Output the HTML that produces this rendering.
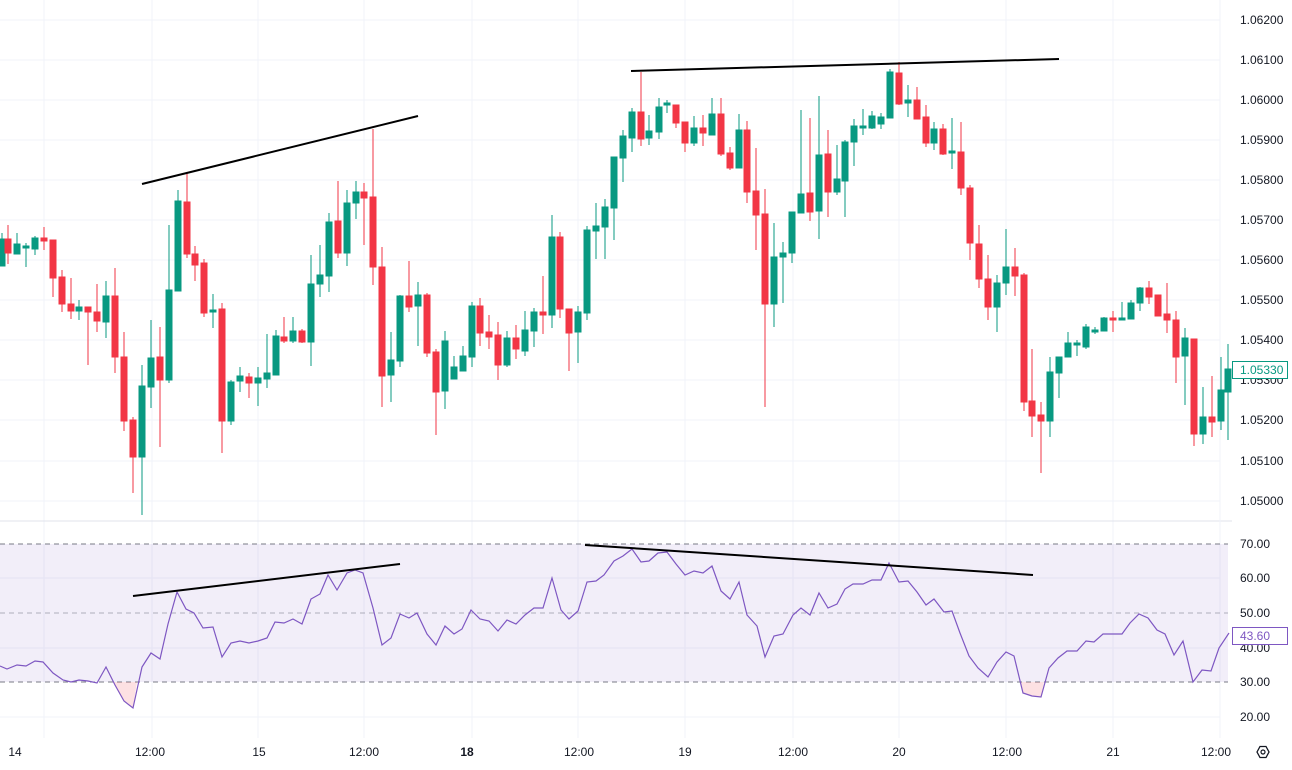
<!DOCTYPE html>
<html><head><meta charset="utf-8"><style>
html,body{margin:0;padding:0;background:#fff;}
svg{display:block;font-family:"Liberation Sans",sans-serif;}
.g{fill:#089981;stroke:#089981;stroke-width:1}
.r{fill:#f23645;stroke:#f23645;stroke-width:1}
.ax{font-size:12px;fill:#131722}
</style></head><body>
<svg width="1292" height="770" viewBox="0 0 1292 770">
<rect width="1292" height="770" fill="#fff"/>
<!-- grid -->
<g stroke="#f0f3fa" stroke-width="1">
<line x1="0" x2="1220" y1="20" y2="20"/><line x1="0" x2="1220" y1="60" y2="60"/><line x1="0" x2="1220" y1="100" y2="100"/><line x1="0" x2="1220" y1="140" y2="140"/><line x1="0" x2="1220" y1="180" y2="180"/><line x1="0" x2="1220" y1="220" y2="220"/><line x1="0" x2="1220" y1="260" y2="260"/><line x1="0" x2="1220" y1="300" y2="300"/><line x1="0" x2="1220" y1="340" y2="340"/><line x1="0" x2="1220" y1="380" y2="380"/><line x1="0" x2="1220" y1="420" y2="420"/><line x1="0" x2="1220" y1="461" y2="461"/><line x1="0" x2="1220" y1="501" y2="501"/>
<line x1="0" x2="1220" y1="578" y2="578"/><line x1="0" x2="1220" y1="648" y2="648"/><line x1="0" x2="1220" y1="717" y2="717"/>
<line x1="44" x2="44" y1="0" y2="738"/><line x1="152" x2="152" y1="0" y2="738"/><line x1="258" x2="258" y1="0" y2="738"/><line x1="364" x2="364" y1="0" y2="738"/><line x1="472" x2="472" y1="0" y2="738"/><line x1="578" x2="578" y1="0" y2="738"/><line x1="685" x2="685" y1="0" y2="738"/><line x1="793" x2="793" y1="0" y2="738"/><line x1="899" x2="899" y1="0" y2="738"/><line x1="1006" x2="1006" y1="0" y2="738"/><line x1="1113" x2="1113" y1="0" y2="738"/>
</g>
<line x1="0" x2="1292" y1="521" y2="521" stroke="#e0e3eb"/>
<line x1="1220" x2="1220" y1="0" y2="738" stroke="#f0f3fa"/>
<!-- candles -->
<path class="g" d="M2 233V266M-1 239h6V266h-6z"/>
<path class="r" d="M8 225V264M5 239h6V253h-6z"/>
<path class="g" d="M17 233V254M14 244h6V254h-6z"/>
<path class="g" d="M26 243V267M23 246h6V248h-6z"/>
<path class="g" d="M35 236V255M32 238h6V249h-6z"/>
<path class="r" d="M44 227V250M41 238h6V241h-6z"/>
<path class="r" d="M53 240V297M50 240h6V278h-6z"/>
<path class="r" d="M62 270V312M59 277h6V304h-6z"/>
<path class="r" d="M71 278V319M68 304h6V311h-6z"/>
<path class="g" d="M79 300V320M76 307h6V311h-6z"/>
<path class="r" d="M88 307V365M85 307h6V312h-6z"/>
<path class="r" d="M97 284V332M94 312h6V321h-6z"/>
<path class="g" d="M106 281V338M103 296h6V322h-6z"/>
<path class="r" d="M115 268V373M112 296h6V357h-6z"/>
<path class="r" d="M124 332V431M121 357h6V421h-6z"/>
<path class="r" d="M133 417V493M130 420h6V457h-6z"/>
<path class="g" d="M142 365V515M139 386h6V457h-6z"/>
<path class="g" d="M151 320V408M148 358h6V387h-6z"/>
<path class="r" d="M160 327V447M157 357h6V380h-6z"/>
<path class="g" d="M169 225V383M166 290h6V380h-6z"/>
<path class="g" d="M178 190V291M175 201h6V291h-6z"/>
<path class="r" d="M187 172V258M184 202h6V254h-6z"/>
<path class="r" d="M195 246V281M192 254h6V265h-6z"/>
<path class="r" d="M204 259V317M201 263h6V313h-6z"/>
<path class="g" d="M213 294V328M210 310h6V312h-6z"/>
<path class="r" d="M222 303V453M219 309h6V421h-6z"/>
<path class="g" d="M231 380V425M228 382h6V421h-6z"/>
<path class="g" d="M240 367V392M237 376h6V381h-6z"/>
<path class="r" d="M249 373V398M246 377h6V383h-6z"/>
<path class="g" d="M258 367V406M255 378h6V383h-6z"/>
<path class="g" d="M267 334V388M264 373h6V379h-6z"/>
<path class="g" d="M276 330V375M273 336h6V375h-6z"/>
<path class="r" d="M284 317V343M281 337h6V341h-6z"/>
<path class="g" d="M293 317V343M290 331h6V341h-6z"/>
<path class="r" d="M302 329V343M299 331h6V342h-6z"/>
<path class="g" d="M311 255V366M308 284h6V342h-6z"/>
<path class="g" d="M320 245V297M317 275h6V284h-6z"/>
<path class="g" d="M329 213V292M326 222h6V276h-6z"/>
<path class="r" d="M338 181V258M335 221h6V253h-6z"/>
<path class="g" d="M347 190V266M344 203h6V253h-6z"/>
<path class="g" d="M356 181V219M353 192h6V203h-6z"/>
<path class="r" d="M364 183V245M361 192h6V198h-6z"/>
<path class="r" d="M373 129V285M370 197h6V267h-6z"/>
<path class="r" d="M382 247V407M379 267h6V376h-6z"/>
<path class="g" d="M391 332V402M388 360h6V375h-6z"/>
<path class="g" d="M400 295V367M397 296h6V361h-6z"/>
<path class="r" d="M409 261V312M406 296h6V307h-6z"/>
<path class="g" d="M418 282V346M415 295h6V306h-6z"/>
<path class="r" d="M427 293V357M424 295h6V353h-6z"/>
<path class="r" d="M436 349V435M433 352h6V392h-6z"/>
<path class="g" d="M445 331V409M442 341h6V391h-6z"/>
<path class="g" d="M454 356V379M451 367h6V379h-6z"/>
<path class="g" d="M463 346V371M460 356h6V371h-6z"/>
<path class="g" d="M472 302V367M469 306h6V357h-6z"/>
<path class="r" d="M480 298V346M477 306h6V333h-6z"/>
<path class="r" d="M489 315V349M486 332h6V337h-6z"/>
<path class="r" d="M498 322V380M495 335h6V365h-6z"/>
<path class="g" d="M507 331V367M504 338h6V365h-6z"/>
<path class="r" d="M516 325V359M513 338h6V349h-6z"/>
<path class="g" d="M525 311V356M522 330h6V351h-6z"/>
<path class="g" d="M534 308V347M531 312h6V331h-6z"/>
<path class="r" d="M543 276V334M540 312h6V315h-6z"/>
<path class="g" d="M552 215V328M549 237h6V315h-6z"/>
<path class="r" d="M560 232V318M557 237h6V309h-6z"/>
<path class="r" d="M569 309V371M566 309h6V333h-6z"/>
<path class="g" d="M578 306V363M575 312h6V332h-6z"/>
<path class="g" d="M587 226V320M584 230h6V313h-6z"/>
<path class="g" d="M596 203V259M593 226h6V231h-6z"/>
<path class="g" d="M605 199V259M602 207h6V227h-6z"/>
<path class="g" d="M614 157V240M611 157h6V208h-6z"/>
<path class="g" d="M623 130V182M620 136h6V158h-6z"/>
<path class="g" d="M632 108V152M629 112h6V138h-6z"/>
<path class="r" d="M641 72V146M638 112h6V139h-6z"/>
<path class="g" d="M649 115V145M646 131h6V138h-6z"/>
<path class="g" d="M659 98V139M656 107h6V132h-6z"/>
<path class="g" d="M667 100V113M664 103h6V105h-6z"/>
<path class="r" d="M676 105V128M673 105h6V123h-6z"/>
<path class="r" d="M685 122V152M682 122h6V143h-6z"/>
<path class="g" d="M694 116V146M691 128h6V143h-6z"/>
<path class="r" d="M703 115V146M700 128h6V133h-6z"/>
<path class="g" d="M712 98V135M709 114h6V135h-6z"/>
<path class="r" d="M721 98V156M718 114h6V154h-6z"/>
<path class="r" d="M730 147V170M727 153h6V168h-6z"/>
<path class="g" d="M739 114V168M736 130h6V168h-6z"/>
<path class="r" d="M747 121V203M744 130h6V192h-6z"/>
<path class="r" d="M756 148V250M753 191h6V215h-6z"/>
<path class="r" d="M765 189V407M762 214h6V304h-6z"/>
<path class="g" d="M774 223V327M771 257h6V304h-6z"/>
<path class="g" d="M783 242V303M780 253h6V257h-6z"/>
<path class="g" d="M792 212V263M789 212h6V253h-6z"/>
<path class="g" d="M801 110V213M798 194h6V213h-6z"/>
<path class="r" d="M810 118V221M807 193h6V212h-6z"/>
<path class="g" d="M819 96V239M816 155h6V211h-6z"/>
<path class="r" d="M828 130V217M825 154h6V192h-6z"/>
<path class="g" d="M837 145V195M834 179h6V192h-6z"/>
<path class="g" d="M845 140V217M842 142h6V181h-6z"/>
<path class="g" d="M854 119V166M851 126h6V142h-6z"/>
<path class="g" d="M863 109V135M860 126h6V128h-6z"/>
<path class="g" d="M872 111V129M869 116h6V128h-6z"/>
<path class="g" d="M881 113V129M878 117h6V124h-6z"/>
<path class="g" d="M890 69V118M887 72h6V118h-6z"/>
<path class="r" d="M899 62V105M896 73h6V104h-6z"/>
<path class="g" d="M908 85V117M905 100h6V103h-6z"/>
<path class="r" d="M917 87V119M914 100h6V119h-6z"/>
<path class="r" d="M926 105V147M923 117h6V143h-6z"/>
<path class="g" d="M934 122V150M931 129h6V143h-6z"/>
<path class="r" d="M943 124V155M940 129h6V154h-6z"/>
<path class="g" d="M952 118V169M949 151h6V153h-6z"/>
<path class="r" d="M961 122V195M958 152h6V188h-6z"/>
<path class="r" d="M970 185V260M967 188h6V243h-6z"/>
<path class="r" d="M979 225V288M976 244h6V279h-6z"/>
<path class="r" d="M988 255V320M985 279h6V307h-6z"/>
<path class="g" d="M997 275V332M994 283h6V307h-6z"/>
<path class="g" d="M1006 229V295M1003 267h6V283h-6z"/>
<path class="r" d="M1015 248V296M1012 267h6V276h-6z"/>
<path class="r" d="M1024 273V411M1021 275h6V402h-6z"/>
<path class="r" d="M1032 349V437M1029 401h6V416h-6z"/>
<path class="r" d="M1041 402V473M1038 415h6V421h-6z"/>
<path class="g" d="M1050 357V437M1047 372h6V421h-6z"/>
<path class="g" d="M1059 357V398M1056 357h6V373h-6z"/>
<path class="g" d="M1068 332V357M1065 343h6V357h-6z"/>
<path class="g" d="M1077 340V356M1074 343h6V345h-6z"/>
<path class="g" d="M1086 324V349M1083 327h6V347h-6z"/>
<path class="g" d="M1095 327V334M1092 330h6V332h-6z"/>
<path class="g" d="M1104 317V331M1101 318h6V331h-6z"/>
<path class="r" d="M1113 311V332M1110 318h6V320h-6z"/>
<path class="g" d="M1122 302V320M1119 318h6V320h-6z"/>
<path class="g" d="M1131 300V319M1128 303h6V319h-6z"/>
<path class="g" d="M1140 287V311M1137 288h6V303h-6z"/>
<path class="r" d="M1149 281V304M1146 288h6V297h-6z"/>
<path class="r" d="M1158 295V316M1155 295h6V316h-6z"/>
<path class="r" d="M1167 283V333M1164 314h6V320h-6z"/>
<path class="r" d="M1176 311V383M1173 320h6V357h-6z"/>
<path class="g" d="M1185 328V405M1182 338h6V356h-6z"/>
<path class="r" d="M1194 339V446M1191 339h6V434h-6z"/>
<path class="g" d="M1203 387V444M1200 417h6V434h-6z"/>
<path class="r" d="M1212 376V437M1209 417h6V422h-6z"/>
<path class="g" d="M1221 357V430M1218 390h6V421h-6z"/>
<path class="g" d="M1228 344V440M1225 369h6V392h-6z"/>
<!-- trend lines -->
<g stroke="#000" stroke-width="2"><line x1="142" y1="184" x2="418" y2="116"/><line x1="631" y1="71" x2="1059" y2="59"/></g>
<!-- RSI -->
<rect x="0" y="544" width="1228" height="138" fill="#7e57c2" fill-opacity="0.1"/>
<g stroke="#787b86" stroke-dasharray="5,4" stroke-width="1"><line x1="0" x2="1228" y1="544" y2="544"/><line x1="0" x2="1228" y1="682" y2="682"/><line x1="0" x2="1228" y1="613" y2="613" stroke-opacity="0.55"/></g>
<polygon points="113,682 124,701 133,708 137,682" fill="#f23645" fill-opacity="0.15"/>
<polygon points="1021,682 1023,693 1032,696 1041,697 1044,682" fill="#f23645" fill-opacity="0.15"/>
<polyline fill="none" stroke="#7e57c2" stroke-width="1.2" points="0,666 7,669 17,665 26,666 35,661 43,662 53,673 63,680 71,682 79,680 88,681 97,683 106,667 115,685 124,701 133,708 142,667 151,653 160,659 168,624 177,592 186,609 194,613 203,628 213,627 222,657 231,643 240,641 249,643 258,641 267,638 275,622 284,623 293,619 302,624 311,599 320,594 328,575 337,590 347,573 355,570 363,573 373,608 382,645 391,638 400,614 409,618 417,613 427,634 436,645 445,626 454,634 462,629 471,610 480,619 489,621 498,631 507,620 516,624 525,615 534,608 543,608 552,578 561,610 569,619 578,611 587,582 596,581 604,575 614,561 623,556 632,549 641,562 649,561 658,553 667,552 676,564 685,575 694,571 703,573 712,566 721,591 730,599 739,582 747,615 757,626 765,657 774,636 783,634 793,615 801,608 810,615 819,593 828,608 837,604 845,589 853,584 863,584 872,580 881,580 889,563 899,582 908,581 917,592 926,605 934,599 944,612 952,611 960,633 969,656 978,668 988,677 997,662 1006,652 1014,656 1023,693 1032,696 1041,697 1049,668 1058,658 1067,651 1077,651 1086,641 1094,642 1103,634 1112,634 1122,634 1130,623 1139,614 1148,618 1157,630 1165,634 1174,655 1183,641 1193,682 1202,670 1211,671 1219,648 1229,633"/>
<g stroke="#000" stroke-width="2"><line x1="133" y1="596" x2="400" y2="564"/><line x1="585" y1="545" x2="1033" y2="575"/></g>
<!-- price axis -->
<rect x="1232" y="0" width="60" height="738" fill="#fff"/>
<g class="ax" text-anchor="start">
<text x="1240" y="24">1.06200</text><text x="1240" y="64">1.06100</text><text x="1240" y="104">1.06000</text><text x="1240" y="144">1.05900</text><text x="1240" y="184">1.05800</text><text x="1240" y="224">1.05700</text><text x="1240" y="264">1.05600</text><text x="1240" y="304">1.05500</text><text x="1240" y="344">1.05400</text><text x="1240" y="384">1.05300</text><text x="1240" y="424">1.05200</text><text x="1240" y="465">1.05100</text><text x="1240" y="505">1.05000</text>
<text x="1240" y="548">70.00</text><text x="1240" y="582">60.00</text><text x="1240" y="617">50.00</text><text x="1240" y="652">40.00</text><text x="1240" y="686">30.00</text><text x="1240" y="721">20.00</text>
</g>
<rect x="1232.5" y="361.5" width="55" height="17" fill="#fff" stroke="#089981"/>
<text x="1240" y="374" font-size="12" fill="#089981">1.05330</text>
<rect x="1232.5" y="627.5" width="55" height="17" fill="#fff" stroke="#7e57c2"/>
<text x="1240" y="640" font-size="12" fill="#7e57c2">43.60</text>
<!-- time axis -->
<g class="ax" text-anchor="middle">
<text x="15" y="756">14</text><text x="150" y="756">12:00</text><text x="259" y="756">15</text><text x="364" y="756">12:00</text><text x="467" y="756" font-weight="bold">18</text><text x="579" y="756">12:00</text><text x="685" y="756">19</text><text x="793" y="756">12:00</text><text x="899" y="756">20</text><text x="1007" y="756">12:00</text><text x="1113" y="756">21</text><text x="1216" y="756">12:00</text>
</g>
<rect x="1232" y="740" width="60" height="30" fill="#fff"/>
<polygon points="1257,752 1260,746.5 1266,746.5 1269,752 1266,757.5 1260,757.5" fill="none" stroke="#131722" stroke-width="1.3"/>
<circle cx="1263" cy="752" r="2" fill="none" stroke="#131722" stroke-width="1.2"/>
</svg>
</body></html>
